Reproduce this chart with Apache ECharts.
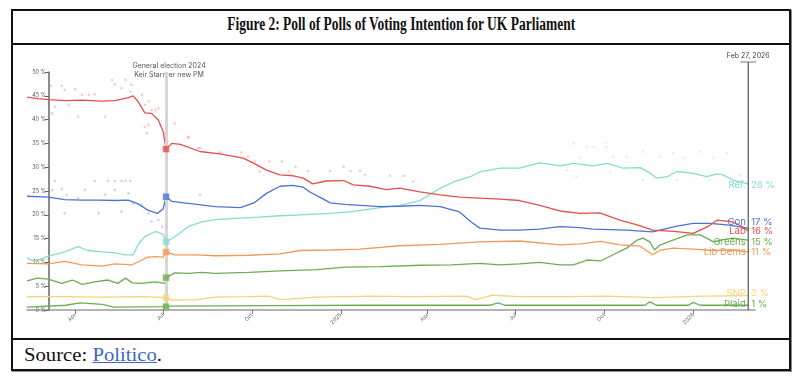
<!DOCTYPE html>
<html><head><meta charset="utf-8">
<script src="https://cdn.jsdelivr.net/npm/echarts@6/dist/echarts.min.js"></script>
<style>
html,body{margin:0;padding:0;background:#fff;width:800px;height:378px;overflow:hidden}
#frame{position:absolute;left:11px;top:9px;width:776px;height:358px;border:2px solid #111;box-shadow:1px 1px 0 #8a8a8a}
#titlebox{position:absolute;left:0;top:0;width:776px;height:32px;border-bottom:2px solid #111}
#title{position:absolute;left:0;top:3px;width:776px;text-align:center;white-space:nowrap;font-family:"Liberation Serif",serif;font-weight:bold;font-size:18px;line-height:20px;color:#111}
#title span{display:inline-block;transform-origin:center center}
#sourcebox{position:absolute;left:0;top:327px;width:776px;height:31px;border-top:2px solid #111}
#source{position:absolute;left:11px;top:5px;white-space:nowrap;font-family:"Liberation Serif",serif;font-size:19px;line-height:20px;color:#111}
#source span{display:inline-block;transform-origin:left center}
#source a{color:#3e67c4;text-decoration:underline}
#chart{position:absolute;left:0;top:0;width:800px;height:378px}
</style>
</head><body>
<div id="frame">
  <div id="titlebox"><div id="title"><span id="tt">Figure 2: Poll of Polls of Voting Intention for UK Parliament</span></div></div>
  <div id="sourcebox"><div id="source"><span id="st">Source: <a href="#">Politico</a>.</span></div></div>
</div>
<div id="chart"></div>
<script>
// ---------- DATA (day = days since 11 Feb 2024, value = %) ----------
const startDate = [2024, 1, 11];
const electionDay = 144;   // 4 Jul 2024
const lastDay = 747;       // 27 Feb 2026
const axisEndDay = 754;

const tickDates = ['2024-04-01','2024-07-01','2024-10-01','2025-01-01','2025-04-01','2025-07-01','2025-10-01','2026-01-01'];
const tickLabels = ['Apr','Jul','Oct','2025','Apr','Jul','Oct','2026'];

const partyNames = ['Ref.','Con','Lab','Greens','Lib Dems','SNP','Plaid'];
const endValueLabels = ['26 %','17 %','16 %','15 %','11 %','2 %','1 %'];

const refSeries = [[0,10.9],[8,10.2],[22,11.3],[39,12.2],[53,13.3],[63,12.5],[78,12.2],[91,12],[102,11.6],[110,11.6],[115,13.7],[122,15.4],[133,16.5],[141,15.9],[144,14.3],[153,15.4],[167,17.5],[181,18.5],[195,19],[221,19.3],[241,19.5],[262,19.8],[283,20],[314,20.3],[334,20.6],[366,21.5],[386,22],[407,23],[428,25.6],[443,27],[459,28],[469,29],[490,29.8],[510,29.8],[531,30.9],[552,30.3],[566,30.8],[586,30.3],[601,30.8],[617,29.8],[635,29.9],[645,28.8],[652,27.7],[663,28],[673,29.1],[690,28.7],[704,28],[715,28.6],[721,28.4],[731,27.3],[747,26.5]];
const conSeries = [[0,23.9],[22,23.7],[39,23.2],[57,23.1],[74,23.1],[91,23.0],[105,23.1],[115,22.3],[125,21.0],[135,20.3],[141,21.2],[144,23.8],[150,22.8],[167,22.4],[195,21.7],[221,21.5],[235,22.5],[248,24.5],[262,26],[275,26.2],[286,25.8],[293,24.8],[305,23.5],[314,22.5],[329,22.2],[345,22],[366,21.7],[386,21.8],[407,22],[428,21.7],[448,20.6],[460,18.5],[469,17.2],[490,16.8],[510,16.8],[531,17],[552,17.5],[573,17.3],[586,17],[621,16.8],[648,16.4],[673,17.6],[690,18.2],[707,18.2],[725,17.9],[747,17.2]];
const labSeries = [[0,44.7],[11,44.4],[23,44.2],[40,44.0],[57,44.1],[77,43.9],[91,44.0],[105,44.6],[110,45.0],[115,43.8],[122,41.4],[129,41.3],[136,39.9],[141,37.5],[144,33.8],[150,35.0],[159,34.8],[179,33.3],[200,32.8],[224,31.9],[238,30.5],[248,29.4],[262,28.4],[276,28.2],[286,27.7],[296,26.5],[310,27.1],[328,27.2],[338,26.3],[355,26],[372,25.3],[386,25.6],[407,24.8],[428,24.2],[448,23.7],[469,23.5],[490,23.3],[510,23],[531,22],[552,20.8],[573,20.3],[593,20.4],[604,19.6],[614,18.9],[632,17.9],[648,16.8],[670,16.5],[690,16.1],[705,17.5],[715,18.9],[731,18.5],[740,17.6],[747,16.6]];
const greensSeries = [[0,6.1],[11,6.7],[22,6.5],[36,5.6],[47,6.3],[57,5.4],[70,5.9],[84,6.3],[94,5.6],[102,6.7],[109,5.7],[119,5.6],[133,5.9],[143,5.6],[144,6.8],[153,7.8],[167,7.7],[181,7.9],[195,7.7],[230,7.9],[262,8.2],[300,8.5],[330,9],[366,9.1],[407,9.4],[440,9.5],[469,9.8],[490,9.5],[510,9.7],[531,10],[552,9.5],[566,9.5],[580,10.5],[594,10.3],[607,11.6],[621,13],[632,14.7],[638,15.1],[645,14.3],[650,12.6],[656,13.7],[669,14.7],[684,15.8],[697,15.8],[704,15.1],[711,14.3],[721,14.8],[731,15.1],[747,14.7]];
const libDemSeries = [[0,9.8],[22,9.7],[39,10.2],[57,9.5],[78,9.2],[91,9.7],[109,9.5],[119,10.5],[125,11.1],[133,11.2],[141,11.1],[144,12.2],[153,11.6],[177,11.6],[195,11.4],[230,11.5],[262,11.8],[283,12.5],[314,12.6],[345,12.8],[386,13.5],[428,13.8],[469,14.3],[510,14.5],[552,13.7],[573,13.9],[594,14.4],[614,13.7],[635,13.4],[648,11.6],[656,12.6],[669,13],[690,12.8],[711,12.5],[731,12.6],[747,12.2]];
const snpSeries = [[0,2.8],[40,2.8],[80,2.7],[120,2.8],[144,2.6],[150,2.1],[177,2.2],[195,2.7],[228,2.8],[250,2.9],[263,2.2],[300,2.7],[356,2.9],[400,2.8],[455,2.9],[465,2.2],[482,3.1],[510,2.8],[560,2.8],[600,2.9],[650,2.6],[700,2.9],[747,3.0]];
const plaidSeries = [[0,0.6],[40,1.0],[55,1.5],[78,1.2],[90,0.6],[144,0.7],[150,0.8],[250,0.9],[350,1.0],[480,1.0],[488,1.5],[495,1.0],[640,1.0],[645,1.7],[652,1.0],[685,1.0],[690,1.6],[697,1.0],[747,1.0]];

const labPolls = [[25,47.1],[36,47.1],[39,46.2],[26,41.3],[29,42.7],[43,43.1],[50,46.4],[53,40.6],[57,45.2],[64,45.2],[70,45.3],[81,40.6],[88,48.3],[91,47.4],[98,46.6],[102,48.3],[107,45.9],[108,47.3],[119,45.2],[122,43.1],[126,43.8],[129,42],[133,42],[136,42.4],[122,38.5],[126,38.9],[124,37.1],[143,37.1],[153,39.2],[167,36.2],[179,34],[167,36.4],[177,34],[200,33.1],[222,33.1],[229,32.2],[236,31.2],[251,31.2],[241,29.1],[264,31.2],[271,29.2],[278,30.1],[291,29.2],[314,29.2],[328,30.1],[335,29.2],[345,29.2],[350,28.4],[376,28.2],[390,28.2],[400,27]];
const conPolls = [[29,27.1],[70,27.1],[84,27.1],[91,27.1],[98,27.1],[102,27.1],[107,27.1],[26,25.2],[36,25.4],[41,24.2],[53,23.5],[60,25.2],[81,24.2],[91,25.2],[105,24.5],[110,22.4],[119,22.1],[126,20.3],[129,18.6],[136,18.9],[140,17.5],[39,20.3],[74,20.3],[98,20.7],[179,24.2]];
const refPolls = [[566,35.0],[580,34.3],[587,34.2],[600,35.2],[600,34.2],[559,29.4],[573,31.9],[607,32.2],[621,32.2],[638,33.3],[656,32.2],[669,32.9],[680,31.9],[697,33.3],[711,31.9],[725,32.9],[739,28.4],[569,28],[604,29.1],[638,27.3],[673,27.3],[707,27.3]];

// ---------- STYLE ----------
const colors = {
  'Ref.':'#86dccd','Con':'#4d72d6','Lab':'#e2504a','Greens':'#6bad50',
  'Lib Dems':'#f29a5a','SNP':'#f5d478','Plaid':'#6cae52'
};
const labelDy = {'Ref.':1,'Con':-6,'Lab':0,'Greens':2,'Lib Dems':0,'SNP':-3,'Plaid':-1};
const seriesByParty = {
  'Ref.':refSeries,'Con':conSeries,'Lab':labSeries,'Greens':greensSeries,
  'Lib Dems':libDemSeries,'SNP':snpSeries,'Plaid':plaidSeries
};
const pollsByParty = {'Lab':labPolls,'Con':conPolls,'Ref.':refPolls};

const FONT = 'Inter, "Liberation Sans", sans-serif';
const base = new Date(startDate[0], startDate[1], startDate[2]).getTime();
const t = d => base + d * 86400000;
const tickTimes = tickDates.map(s => { const p = s.split('-').map(Number); return new Date(p[0], p[1]-1, p[2]).getTime(); });
const tickLabelMap = {};
tickTimes.forEach((v,i) => tickLabelMap[v] = tickLabels[i]);

const series = [];
Object.keys(pollsByParty).forEach(p => {
  series.push({
    type:'scatter', silent:true, symbol:'circle', symbolSize:2.6, z:1,
    itemStyle:{color:colors[p], opacity:0.3},
    data: pollsByParty[p].map(d => [t(d[0]), d[1]])
  });
});
partyNames.forEach((p, i) => {
  const pts = seriesByParty[p];
  const last = pts[pts.length-1];
  series.push({
    type:'line', name:p, showSymbol:false, symbol:'none', z:3,
    lineStyle:{color:colors[p], width:1.3}, itemStyle:{color:colors[p]},
    data: pts.map(d => [t(d[0]), d[1]]),
    markPoint: {
      symbol:'rect', symbolSize:0, silent:true, animation:false,
      data: [
        {coord:[t(last[0]), last[1]], label:{show:true, position:'left', distance:2.5, offset:[0,labelDy[p]], formatter:p, color:colors[p], fontSize:9.5, fontFamily:FONT}},
        {coord:[t(last[0]), last[1]], label:{show:true, position:'right', distance:3, offset:[0,labelDy[p]], formatter:endValueLabels[i], color:colors[p], fontSize:9.5, fontFamily:FONT}}
      ]
    }
  });
});
series.push({
  type:'scatter', symbol:'rect', symbolSize:6.5, z:5, silent:true,
  data: partyNames.map(p => {
    const e = seriesByParty[p].find(d => d[0] === electionDay);
    return {value:[t(electionDay), e[1]], itemStyle:{color:colors[p]}};
  }),
  markLine: {
    silent:true, symbol:'none', animation:false, label:{show:false},
    lineStyle:{color:'#d6d6d6', width:3, type:'solid'},
    data:[{xAxis:t(electionDay)}]
  }
});

const chart = echarts.init(document.getElementById('chart'), null, {renderer:'canvas'});
chart.setOption({
  animation:false,
  grid:{left:27, right:45, top:72, bottom:68},
  xAxis:{
    type:'value', min:t(0), max:t(axisEndDay), scale:true,
    axisLine:{lineStyle:{color:'#9a9a9a', width:1.5}},
    axisTick:{show:true, customValues:tickTimes, length:4, lineStyle:{color:'#777'}},
    axisLabel:{customValues:tickTimes, rotate:45, fontSize:5.5, color:'#666', margin:4, fontFamily:FONT,
      formatter: v => tickLabelMap[v] || ''},
    splitLine:{show:false}
  },
  yAxis:{
    type:'value', min:0, max:50, interval:5, offset:-22,
    axisLine:{show:true, lineStyle:{color:'#666', width:1.5}},
    axisTick:{show:true, length:4, lineStyle:{color:'#666'}},
    axisLabel:{fontSize:5.5, color:'#555', margin:3, fontFamily:FONT, formatter:'{value} %'},
    splitLine:{show:false}
  },
  series: series
});

const ex = chart.convertToPixel({xAxisIndex:0}, t(electionDay));
const lx = chart.convertToPixel({xAxisIndex:0}, t(lastDay));
const y0 = chart.convertToPixel({yAxisIndex:0}, 0);
chart.setOption({graphic:[
  {type:'text', x:ex+3, y:66, style:{text:'General election 2024', fontSize:7, fill:'#555', fontFamily:FONT, align:'center', verticalAlign:'middle'}},
  {type:'text', x:ex+3, y:75, style:{text:'Keir Starmer new PM', fontSize:7, fill:'#555', fontFamily:FONT, align:'center', verticalAlign:'middle'}},
  {type:'line', shape:{x1:lx, y1:62, x2:lx, y2:y0}, style:{stroke:'#555', lineWidth:1.2}, z:10},
  {type:'line', shape:{x1:lx-8, y1:62, x2:lx+8, y2:62}, style:{stroke:'#777', lineWidth:1}, z:10},
  {type:'text', x:lx, y:56, style:{text:'Feb 27, 2026', fontSize:7, fill:'#444', fontFamily:FONT, align:'center', verticalAlign:'middle'}}
]});

function fit(id, w){ const el=document.getElementById(id); const r=el.getBoundingClientRect().width; el.style.transform='scaleX('+(w/r)+')'; }
fit('tt', 348);
fit('st', 138);
</script>
</body></html>
